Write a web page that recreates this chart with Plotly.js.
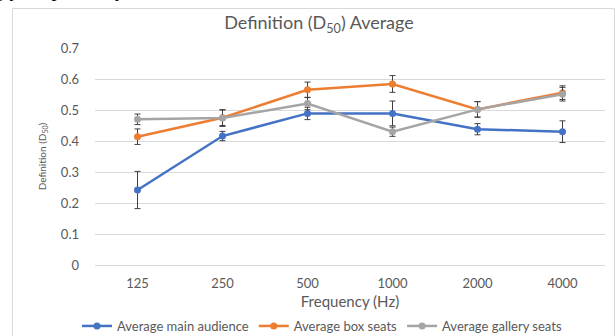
<!DOCTYPE html>
<html>
<head>
<meta charset="utf-8">
<script src="https://cdn.plot.ly/plotly-3.0.1.min.js"></script>
<style>
html,body{margin:0;padding:0;background:#fff;}
#chart{width:615px;height:336px;}
</style>
</head>
<body>
<div id="chart"></div>
<script>
// ---- data ----
const frequencies = ["125", "250", "500", "1000", "2000", "4000"];
const mainAudience = [0.242, 0.416, 0.489, 0.489, 0.438, 0.430];
const mainAudienceErr = [0.060, 0.015, 0.020, 0.040, 0.018, 0.035];
const boxSeats = [0.414, 0.475, 0.565, 0.584, 0.502, 0.556];
const boxSeatsErr = [0.025, 0.025, 0.025, 0.027, 0.025, 0.022];
const gallerySeats = [0.470, 0.474, 0.521, 0.430, 0.502, 0.551];
const gallerySeatsErr = [0.017, 0.027, 0.020, 0.015, 0.025, 0.022];
const seriesNames = ["Average main audience", "Average box seats", "Average gallery seats"];
const yTickValues = [0, 0.1, 0.2, 0.3, 0.4, 0.5, 0.6, 0.7];
const yTickLabels = ["0", "0.1", "0.2", "0.3", "0.4", "0.5", "0.6", "0.7"];

// ---- styling ----
const W = 615, H = 336;
const M = {l: 95, r: 10, t: 48, b: 71, autoexpand: false};
const PW = W - M.l - M.r, PH = H - M.t - M.b;
const px = x => (x - M.l) / PW;       // pixel -> paper x
const py = y => (H - M.b - y) / PH;   // pixel -> paper y
const textColor = "#595959";
const font = "Lato, 'Open Sans', sans-serif";
const colors = ["#4472C4", "#ED7D31", "#A5A5A5"];

function trace(name, y, err, color) {
  return {
    type: "scatter", mode: "lines+markers", name: name,
    x: frequencies, y: y,
    line: {color: color, width: 2.5},
    marker: {color: color, size: 7},
    error_y: {type: "data", array: err, visible: true, color: "#404040", thickness: 1, width: 3}
  };
}

const data = [
  trace(seriesNames[0], mainAudience, mainAudienceErr, colors[0]),
  trace(seriesNames[1], boxSeats, boxSeatsErr, colors[1]),
  trace(seriesNames[2], gallerySeats, gallerySeatsErr, colors[2])
];

const layout = {
  width: W, height: H,
  margin: M,
  paper_bgcolor: "#ffffff", plot_bgcolor: "#ffffff",
  font: {family: font, color: textColor, size: 13},
  title: {
    text: "Definition (D<sub>50</sub>) Average",
    font: {family: font, size: 18, color: textColor},
    x: px(319), xref: "paper", xanchor: "center",
    y: 1 - 23 / H, yref: "container", yanchor: "middle"
  },
  xaxis: {
    type: "category",
    range: [-0.5, 5.5],
    showgrid: false, zeroline: false,
    showline: true, linecolor: "#d9d9d9", linewidth: 1,
    ticks: "", ticklabelstandoff: 6, automargin: false,
    tickfont: {family: font, size: 13, color: textColor},
    title: {text: "Frequency (Hz)", font: {family: font, size: 15, color: textColor}, standoff: 6},
    fixedrange: true
  },
  yaxis: {
    range: [0, 0.7],
    tickvals: yTickValues, ticktext: yTickLabels,
    showgrid: true, gridcolor: "#d9d9d9", gridwidth: 1,
    zeroline: false, showline: false, automargin: false,
    ticks: "", ticklabelstandoff: 15,
    tickfont: {family: font, size: 13, color: textColor},
    title: {text: "Definition (D<sub>50</sub>)", font: {family: font, size: 10, color: textColor}, standoff: 12},
    fixedrange: true
  },
  showlegend: true,
  legend: {
    orientation: "h",
    x: px(322), xanchor: "center",
    y: py(326), yanchor: "middle",
    font: {family: font, size: 13, color: textColor},
    itemwidth: 30, tracegroupgap: 0
  },
  shapes: [
    {type: "rect", xref: "paper", yref: "paper",
     x0: px(12.5), x1: px(614.5), y0: py(8.5), y1: py(340),
     line: {color: "#d9d9d9", width: 1}, fillcolor: "rgba(0,0,0,0)", layer: "below"}
  ],
  annotations: [
    {text: "ngly, respectively", xref: "paper", yref: "paper",
     x: px(-18), y: py(3), xanchor: "left", yanchor: "bottom",
     showarrow: false, font: {family: "'Liberation Serif', 'DejaVu Serif', serif", size: 20, color: "#000"}}
  ]
};

Plotly.newPlot("chart", data, layout, {displayModeBar: false, staticPlot: true});
</script>
</body>
</html>
